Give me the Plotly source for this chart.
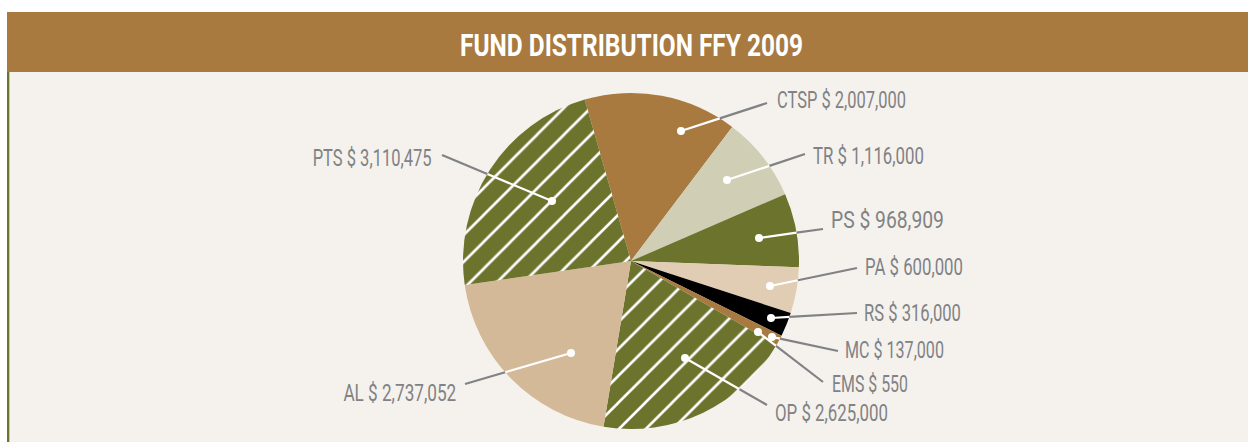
import math
import json
import plotly.graph_objects as go

# ---- data ----
categories = ["CTSP", "TR", "PS", "PA", "RS", "MC", "EMS", "OP", "AL", "PTS"]
values = [2007000, 1116000, 968909, 600000, 316000, 137000, 550, 2625000, 2737052, 3110475]
value_labels = ["$ 2,007,000", "$ 1,116,000", "$ 968,909", "$ 600,000", "$ 316,000",
                "$ 137,000", "$ 550", "$ 2,625,000", "$ 2,737,052", "$ 3,110,475"]
title_text = "FUND DISTRIBUTION FFY 2009"

# ---- styles ----
BROWN = "#A87A40"
OLIVE = "#6B732C"
colors = [BROWN, "#D0CFB5", OLIVE, "#E0CDB4", "#000000", BROWN, BROWN, OLIVE, "#D4B998", OLIVE]
hatched = [False, False, False, False, False, False, False, True, False, True]
GRAY = "#808285"
BG = "#F5F2ED"
FONT = "Roboto, Liberation Sans, sans-serif"

W, H = 1248, 442
CX, CY, R = 631, 261, 168

# leader layout (pixels): dot position, line end, label anchor, rendered text width
dots = [(681, 131), (727, 180), (759, 238), (770, 286), (771, 318), (772, 337),
        (758, 332), (685, 358), (571, 353), (552, 201)]
ends = [(767, 103), (805, 154), (823, 229), (857, 268), (857, 313), (838, 351),
        (823, 382), (767, 405), (465, 384), (442, 155)]
label_pos = [(775, 101), (811, 156), (829, 220), (863, 267), (862, 313), (843, 350),
             (830, 384), (773, 413), (458, 393), (434, 158)]
label_align = ["left"] * 8 + ["right", "right"]
label_width = [129, 111, 113, 98, 97, 99, 76, 113, 113, 119]
title_width = 343


def px(x):
    return x / W


def py(y):
    return 1 - y / H


fig = go.Figure()
fig.add_trace(go.Pie(
    labels=categories,
    values=values,
    sort=False,
    direction="clockwise",
    rotation=-16,
    textinfo="none",
    hoverinfo="label+value",
    showlegend=False,
    marker=dict(
        colors=colors,
        line=dict(width=0),
        pattern=dict(
            shape=["/" if h else "" for h in hatched],
            fgcolor="#FFFFFF",
            fgopacity=1,
            size=19,
            solidity=0.14,
            fillmode="overlay",
        ),
    ),
    domain=dict(x=[px(CX - R), px(CX + R)], y=[py(CY + R), py(CY - R)]),
))

shapes = []
shapes.append(dict(type="rect", xref="paper", yref="paper", x0=px(7), x1=px(W), y0=py(H), y1=py(72),
                   fillcolor=BG, line=dict(width=0), layer="below"))
shapes.append(dict(type="rect", xref="paper", yref="paper", x0=px(7), x1=px(W), y0=py(72), y1=py(12),
                   fillcolor=BROWN, line=dict(width=0), layer="below"))
shapes.append(dict(type="rect", xref="paper", yref="paper", x0=px(7), x1=px(9), y0=py(H), y1=py(72),
                   fillcolor=OLIVE, line=dict(width=0), layer="below"))
shapes.append(dict(type="rect", xref="paper", yref="paper", x0=px(9), x1=px(10), y0=py(H), y1=py(72),
                   fillcolor="#C9C6AC", line=dict(width=0), layer="below"))

annotations = []
anchors = []
targets = []
for i, cat in enumerate(categories):
    dx, dy = dots[i]
    ex, ey = ends[i]
    vx, vy = ex - dx, ey - dy
    fx, fy = dx - CX, dy - CY
    a = vx * vx + vy * vy
    b = 2 * (fx * vx + fy * vy)
    c = fx * fx + fy * fy - R * R
    t = (-b + math.sqrt(max(b * b - 4 * a * c, 0))) / (2 * a)
    t = min(max(t, 0), 1)
    ix, iy = dx + t * vx, dy + t * vy
    shapes.append(dict(type="line", xref="paper", yref="paper", x0=px(dx), y0=py(dy), x1=px(ix), y1=py(iy),
                       line=dict(color="#FFFFFF", width=2.2)))
    shapes.append(dict(type="line", xref="paper", yref="paper", x0=px(ix), y0=py(iy), x1=px(ex), y1=py(ey),
                       line=dict(color=GRAY, width=2.2)))
    shapes.append(dict(type="circle", xref="paper", yref="paper",
                       x0=px(dx - 4), x1=px(dx + 4), y0=py(dy + 4), y1=py(dy - 4),
                       fillcolor="#FFFFFF", line=dict(width=0)))
    lx, ly = label_pos[i]
    annotations.append(dict(
        x=px(lx), y=py(ly), xref="paper", yref="paper",
        text=f"{cat} {value_labels[i]}", showarrow=False,
        xanchor=label_align[i], yanchor="middle",
        font=dict(family=FONT, size=23, color=GRAY),
    ))
    anchors.append(label_align[i])
    targets.append(label_width[i])

annotations.append(dict(
    x=px(631), y=py(45), xref="paper", yref="paper", text=f"<b>{title_text}</b>",
    showarrow=False, xanchor="center", yanchor="middle",
    font=dict(family=FONT, size=32, color="#FFFFFF"),
))
anchors.append("center")
targets.append(title_width)

fig.update_layout(
    width=W, height=H, autosize=False,
    margin=dict(l=0, r=0, t=0, b=0),
    paper_bgcolor="#FFFFFF", plot_bgcolor="#FFFFFF",
    shapes=shapes, annotations=annotations,
)

post = """
document.body.style.margin = '0';
var gd = document.getElementById('{plot_id}');
var anchors = %s;
var targets = %s;
function condense() {
  gd.querySelectorAll('g.annotation').forEach(function (g) {
    var i = +g.getAttribute('data-index');
    var t = g.querySelector('text.annotation-text');
    if (!t || !(i in targets)) return;
    t.removeAttribute('transform');
    var bb = t.getBBox();
    if (!bb.width) return;
    var s = targets[i] / bb.width;
    var a = anchors[i];
    var ax = a === 'left' ? bb.x : (a === 'right' ? bb.x + bb.width : bb.x + bb.width / 2);
    t.setAttribute('transform', 'translate(' + ax + ',0) scale(' + s + ',1) translate(' + (-ax) + ',0)');
  });
}
condense();
gd.on('plotly_afterplot', condense);
""" % (json.dumps(anchors), json.dumps(targets))

fig.write_html("out.html", post_script=post, config={"displayModeBar": False})
